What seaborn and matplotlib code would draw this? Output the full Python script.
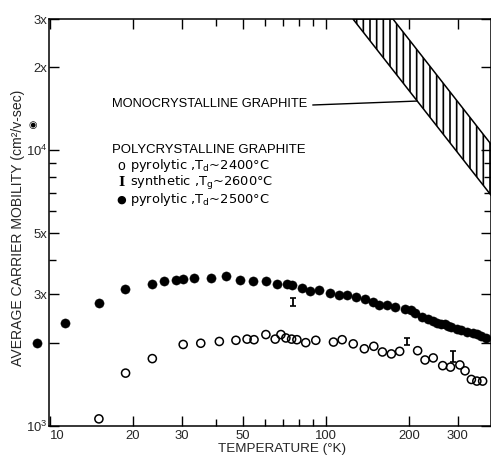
import numpy as np
import pandas as pd
import matplotlib
matplotlib.use("Agg")
import matplotlib.pyplot as plt
import seaborn as sns
from matplotlib.ticker import FixedLocator, FixedFormatter, NullFormatter

# ---------------- data ----------------
# pyrolytic graphite, Td ~ 2500 C (filled circles)
temp_td2500 = [9.0, 11.3, 15.0, 18.7, 23.5, 25.9, 28.6, 30.4, 33.3, 38.4,
               43.4, 48.8, 54.5, 60.6, 66.3, 72.0, 75.1, 81.7, 87.5, 94.6,
               103.4, 111.4, 118.8, 128.4, 138.5, 147.6, 156.0, 166.0, 177.8, 193.3,
               202.5, 209.6, 222.0, 235.0, 243.4, 253.0, 262.0, 270.0, 277.5, 285.0,
               297.5, 307.6, 325.0, 340.0, 352.0, 366.0, 380.0]
mob_td2500 = [2000, 2360, 2780, 3130, 3270, 3340, 3390, 3400, 3430, 3430,
              3490, 3380, 3350, 3350, 3280, 3260, 3230, 3150, 3090, 3110,
              3040, 2990, 2990, 2940, 2870, 2800, 2750, 2750, 2690, 2660,
              2620, 2560, 2480, 2440, 2390, 2360, 2340, 2330, 2300, 2280,
              2250, 2230, 2180, 2170, 2150, 2110, 2080]

# pyrolytic graphite, Td ~ 2400 C (open circles)
temp_td2400 = [15.05, 18.8, 23.5, 30.4, 35.2, 41.1, 47.2, 51.8, 54.9, 60.6,
               65.5, 68.7, 71.6, 75.1, 78.5, 84.5, 91.9, 106.5, 114.5, 125.6,
               137.8, 149.1, 160.2, 172.6, 185.0, 214.9, 228.6, 244.8, 264.9, 282.7,
               305.7, 319.2, 336.5, 352.2, 369.6]
mob_td2400 = [1057, 1550, 1750, 1970, 1990, 2020, 2040, 2060, 2050, 2140,
              2060, 2140, 2080, 2060, 2050, 2000, 2040, 2010, 2050, 1980,
              1900, 1940, 1850, 1820, 1860, 1870, 1730, 1760, 1650, 1630,
              1660, 1580, 1470, 1450, 1450]

# synthetic graphite, Tg ~ 2600 C (error-bar "I" symbols)
temp_tg2600 = [76.1, 196.0, 289.0]
mob_tg2600 = [2810, 2020, 1780]
relerr_tg2600 = [0.03, 0.03, 0.047]

# monocrystalline graphite band (corners of the hatched region)
mono_temp = [125.3, 174.9, 400.0, 400.0]
mono_mob = [30000, 30000, 10400, 6790]

# axis ticks
x_major = [10, 20, 30, 50, 100, 200, 300]
x_major_labels = ["10", "20", "30", "50", "100", "200", "300"]
x_minor = [40, 60, 70, 80, 90]
y_major = [1000, 2000, 3000, 5000, 10000, 20000, 30000]
y_major_labels = [r"$\mathregular{10^3}$", "", "3x", "5x", r"$\mathregular{10^4}$", "2x", "3x"]
y_minor = [4000, 6000, 7000, 8000, 9000]

# ---------------- style ----------------
DPI = 120
K = 100.0 / DPI          # sizes below were tuned in 100-dpi points
sns.set_style("ticks")
FONT = ["Liberation Sans", "DejaVu Sans"]
plt.rcParams["font.family"] = FONT
plt.rcParams["mathtext.fontset"] = "custom"
plt.rcParams["mathtext.rm"] = FONT[0]
plt.rcParams["axes.linewidth"] = 1.1 * K
plt.rcParams["hatch.linewidth"] = 1.2 * K
plt.rcParams["text.color"] = "black"

W, H = 492, 459
fig = plt.figure(figsize=(W / DPI, H / DPI), dpi=DPI)
L, R, T_, B = 48.7, 491.5, 19.0, 425.5
ax = fig.add_axes([L / W, 1 - B / H, (R - L) / W, (B - T_) / H])
ax.set_xscale("log")
ax.set_yscale("log")
ax.set_xlim(9.9, 398)
ax.set_ylim(1000, 30000)

def fpx(x, y):
    return x / W, 1 - y / H

# hatched monocrystalline band
ax.fill(mono_temp, mono_mob, facecolor="none", edgecolor="black",
        hatch="|||", linewidth=1.1 * K, zorder=1)

# data
df_filled = pd.DataFrame({"T": temp_td2500, "mu": mob_td2500})
df_open = pd.DataFrame({"T": temp_td2400, "mu": mob_td2400})
sns.scatterplot(data=df_filled, x="T", y="mu", ax=ax, color="black",
                s=44 * K * K, marker="o", edgecolor="black", linewidth=0.3 * K,
                clip_on=False, zorder=3)
sns.scatterplot(data=df_open, x="T", y="mu", ax=ax, marker="o", s=34 * K * K,
                facecolors="none", edgecolor="black", linewidth=1.1 * K, zorder=3)

mu_s = np.array(mob_tg2600, dtype=float)
rel = np.array(relerr_tg2600)
ax.errorbar(temp_tg2600, mu_s, yerr=[mu_s * rel, mu_s * rel], fmt="none",
            ecolor="black", elinewidth=1.3 * K, capsize=2.5 * K,
            capthick=1.2 * K, zorder=3)

# ticks
for axis, major, labels, minor in ((ax.xaxis, x_major, x_major_labels, x_minor),
                                   (ax.yaxis, y_major, y_major_labels, y_minor)):
    axis.set_major_locator(FixedLocator(major))
    axis.set_major_formatter(FixedFormatter(labels))
    axis.set_minor_locator(FixedLocator(minor))
    axis.set_minor_formatter(NullFormatter())
ax.tick_params(which="both", direction="in", top=True, right=True,
               color="black", labelsize=9.5 * K, width=1.0 * K)
ax.tick_params(which="major", length=7 * K)
ax.tick_params(which="minor", length=5 * K)
ax.tick_params(axis="x", which="major", pad=3 * K)
ax.tick_params(axis="y", which="major", pad=1 * K)
for s in ax.spines.values():
    s.set_visible(True)
    s.set_color("black")
# first x label ("10") sits just right of the corner, as in the reference
ax.xaxis.get_major_ticks()[0].label1.set_horizontalalignment("left")

# labels
ax.set_xlabel("TEMPERATURE (°K)", fontsize=9.7 * K)
ax.xaxis.set_label_coords((282 - L) / (R - L), (B - 443) / (B - T_))
ax.set_ylabel("AVERAGE CARRIER MOBILITY (cm²/v-sec)", fontsize=10.1 * K)
ax.yaxis.set_label_coords((25 - L) / (R - L), (B - 228) / (B - T_))

# annotations
ax.annotate("MONOCRYSTALLINE GRAPHITE", xy=(214.2, 15100),
            xytext=fpx(112, 107), textcoords="figure fraction",
            ha="left", va="baseline", fontsize=9.3 * K,
            arrowprops=dict(arrowstyle="-", color="black", lw=1.0 * K,
                            relpos=(1.0, 0.4), shrinkA=1, shrinkB=0))
fig.text(*fpx(112, 153), "POLYCRYSTALLINE GRAPHITE", ha="left",
         va="baseline", fontsize=9.5 * K)
rows = [("o", "pyrolytic ,T$_\\mathregular{d}$~2400°C", 169.5, FONT, "normal", 10),
        ("I", "synthetic ,T$_\\mathregular{g}$~2600°C", 186, ["DejaVu Serif"], "bold", 9.5),
        ("●", "pyrolytic ,T$_\\mathregular{d}$~2500°C", 202.5, ["DejaVu Sans"], "normal", 8)]
for sym, txt, yb, fam, wt, fs in rows:
    fig.text(*fpx(121, yb), sym, ha="center", va="baseline",
             fontsize=fs * K, family=fam, fontweight=wt)
    fig.text(*fpx(130, yb), txt, ha="left", va="baseline",
             fontsize=9.4 * K, family=["DejaVu Sans"])

# small mark next to the y label
fig.text(*fpx(33, 125), "◉", ha="center", va="center", fontsize=7 * K,
         family=["DejaVu Sans"])

fig.savefig("out.png", dpi=DPI)
